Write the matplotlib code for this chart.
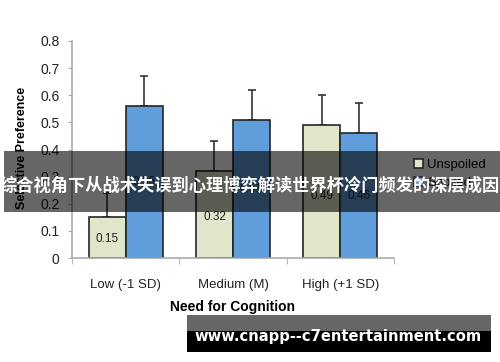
import matplotlib
matplotlib.use("Agg")
import matplotlib.pyplot as plt
from matplotlib.patches import Rectangle
import numpy as np

categories = ["Low (-1 SD)", "Medium (M)", "High (+1 SD)"]
unspoiled = [0.15, 0.32, 0.49]
spoiled = [0.56, 0.51, 0.46]
unspoiled_err = [0.09, 0.11, 0.11]
spoiled_err = [0.11, 0.11, 0.11]
yticks = [0, 0.1, 0.2, 0.3, 0.4, 0.5, 0.6, 0.7, 0.8]
ytick_labels = ["0", "0.1", "0.2", "0.3", "0.4", "0.5", "0.6", "0.7", "0.8"]
series_names = ["Unspoiled", "Spoiled"]
xlabel = "Need for Cognition"
ylabel = "Selective Preference"
overlay_text = "综合视角下从战术失误到心理博弈解读世界杯冷门频发的深层成因"
url_text = "www.cnapp--c7entertainment.com"

plt.rcParams['font.family'] = ['Liberation Sans', 'DejaVu Sans']

W, H = 500, 362
fig = plt.figure(figsize=(5, 3.62), dpi=100)
ax = fig.add_axes([72 / W, 1 - 258 / H, (394 - 72) / W, (258 - 41) / H])

x = np.arange(len(categories))
w = 0.345
green = "#dfe6c9"
blue = "#5f9ddb"
edge = "#262626"
b1 = ax.bar(x - w / 2, unspoiled, w, color=green, edgecolor=edge, linewidth=1.2,
            label=series_names[0], zorder=2)
b2 = ax.bar(x + w / 2, spoiled, w, color=blue, edgecolor=edge, linewidth=1.2,
            label=series_names[1], zorder=2)
ax.errorbar(x - w / 2, unspoiled, yerr=[np.zeros(3), unspoiled_err], fmt='none',
            ecolor="#333333", elinewidth=1.2, capsize=3, capthick=1.2, zorder=1)
ax.errorbar(x + w / 2, spoiled, yerr=[np.zeros(3), spoiled_err], fmt='none',
            ecolor="#333333", elinewidth=1.2, capsize=3, capthick=1.2, zorder=1)

for xi, v in zip(x - w / 2, unspoiled):
    ax.text(xi, v * 0.47, f"{v:.2f}", ha='center', va='center', fontsize=8.5, color="#222222", zorder=3)
for xi, v in zip(x + w / 2, spoiled):
    ax.text(xi, v * 0.5, f"{v:.2f}", ha='center', va='center', fontsize=8.5, color="#222222", zorder=3)

ax.set_xlim(-0.5, 2.5)
ax.set_ylim(0, 0.8)
ax.set_yticks(yticks)
ax.set_yticklabels(ytick_labels, fontsize=10, color="#222222")
ax.set_xticks(x)
ax.set_xticklabels(categories, fontsize=9.5, color="#222222")
ax.set_xticks([-0.5, 0.5, 1.5, 2.5], minor=True)
ax.tick_params(axis='x', which='major', length=0, pad=15)
ax.tick_params(axis='x', which='minor', length=4, color="#aaaaaa", direction='out')
ax.tick_params(axis='y', length=3, color="#aaaaaa", direction='out', pad=6)
for s in ['top', 'right']:
    ax.spines[s].set_visible(False)
for s in ['left', 'bottom']:
    ax.spines[s].set_color("#aaaaaa")
    ax.spines[s].set_linewidth(1.2)

fig.text(232 / W, 1 - 307 / H, xlabel, ha='center', va='center', fontsize=10, fontweight='bold')
fig.text(22 / W, 1 - 148 / H, ylabel, ha='center', va='center', fontsize=9,
         fontweight='bold', rotation=90)

leg = fig.legend(handles=[b1, b2], labels=series_names, loc='upper left',
                 bbox_to_anchor=(414 / W, 1 - 159 / H), frameon=False, fontsize=9.5,
                 handlelength=0.7, handleheight=0.7, handletextpad=0.3, labelspacing=0.4,
                 borderaxespad=0, borderpad=0)

# overlay band
fig.patches.append(Rectangle((4 / W, 1 - 212 / H), (W - 4) / W, 61 / H, transform=fig.transFigure,
                             facecolor='black', alpha=0.6, edgecolor='none', zorder=5))
fig.text(250 / W, 1 - 186 / H, overlay_text, ha='center', va='center', fontsize=12.4,
         fontweight='bold', color='white', family=['Noto Sans CJK SC', 'DejaVu Sans'], zorder=6)

# bottom url box
fig.patches.append(Rectangle((187 / W, 1 - 331 / H), (491 - 187) / W, 16 / H, transform=fig.transFigure,
                             facecolor='#666666', edgecolor='none', zorder=5))
fig.patches.append(Rectangle((187 / W, 1 - 352 / H), (491 - 187) / W, 21 / H, transform=fig.transFigure,
                             facecolor='black', edgecolor='none', zorder=5))
fig.text(338 / W, 1 - 336 / H, url_text, ha='center', va='center', fontsize=10.6,
         fontweight='bold', color='white', family=['DejaVu Sans'], zorder=6)

fig.savefig("out.png", dpi=100)
